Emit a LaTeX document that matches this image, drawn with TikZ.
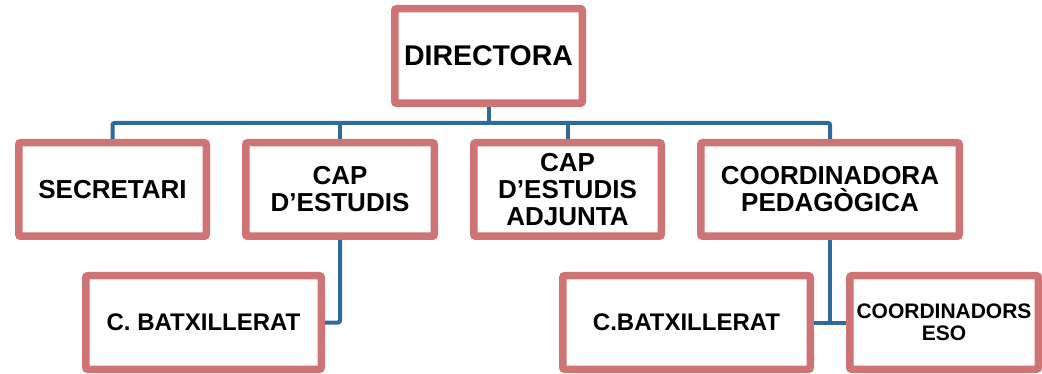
\documentclass[tikz,border=0pt]{standalone}
\usepackage{fontspec}
\setmainfont{Liberation Sans}
\definecolor{boxred}{RGB}{207,116,116}
\definecolor{lineblue}{RGB}{47,106,156}
\begin{document}
\begin{tikzpicture}[x=1pt,y=-1pt,
  post/.style={draw=boxred, line width=7.5pt, rounded corners=2pt, fill=white,
    align=center, inner sep=0pt, minimum height=93.5pt, font=\bfseries\fontsize{26}{27}\selectfont},
  link/.style={draw=lineblue, line width=4pt, rounded corners=2pt}]
  \useasboundingbox (0,0) rectangle (1042,374);
  \node[post, minimum width=187.5pt, minimum height=94.5pt,
    font=\bfseries\fontsize{28.5}{30}\selectfont] (dir) at (488.5,56) {DIRECTORA};
  \node[post, minimum width=187.5pt] (sec) at (112.5,189.5) {SECRETARI};
  \node[post, minimum width=188.5pt] (cap) at (340,189.5) {CAP\\D’ESTUDIS};
  \node[post, minimum width=187.5pt] (adj) at (567.5,189.5) {CAP\\D’ESTUDIS\\ADJUNTA};
  \node[post, minimum width=258.5pt] (ped) at (830,189.5) {COORDINADORA\\PEDAGÒGICA};
  \node[post, minimum width=235.5pt, font=\bfseries\fontsize{24}{25}\selectfont]
    (batA) at (203.5,322.5) {C. BATXILLERAT};
  \node[post, minimum width=247.5pt, font=\bfseries\fontsize{24}{25}\selectfont]
    (batB) at (686.5,322.5) {C.BATXILLERAT};
  \node[post, minimum width=188.5pt, font=\bfseries\fontsize{21}{22}\selectfont]
    (eso) at (944,322.5) {COORDINADORS\\ESO};
  \draw[link] (dir.south) -- ++(0,16) coordinate (bus);
  \draw[link] (sec.north) |- (bus) -| (ped.north);
  \draw[link] (cap.north) -- (cap.north |- bus);
  \draw[link] (adj.north) -- (adj.north |- bus);
  \draw[link] (cap.south) |- (batA.east);
  \draw[link] (ped.south) -- (ped.south |- batB.east);
  \draw[link] (batB.east) -- (eso.west);
\end{tikzpicture}
\end{document}
